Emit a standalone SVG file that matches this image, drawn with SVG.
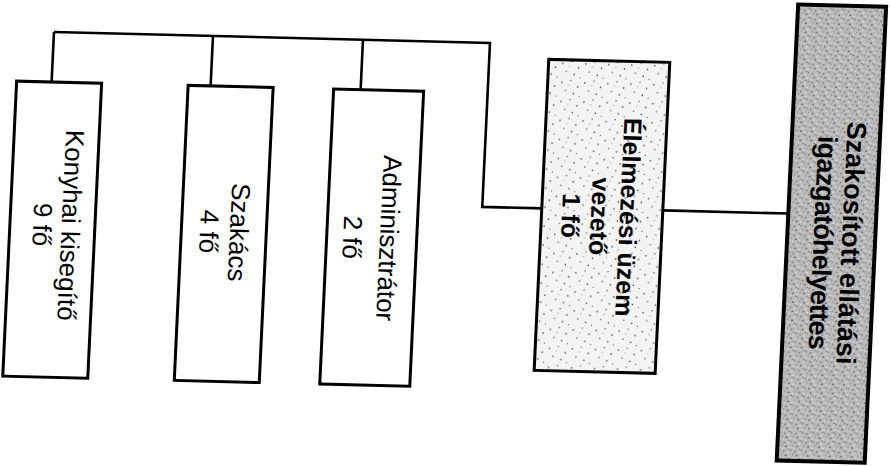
<svg xmlns="http://www.w3.org/2000/svg" width="890" height="466" viewBox="0 0 890 466">
  <style>
    .box { stroke: #000; stroke-width: 3; }
    .plain { fill: #fff; }
    .conn { fill: none; stroke: #000; stroke-width: 2.6; }
    .t { font-family: "Liberation Sans", Arial, Helvetica, sans-serif; font-size: 26px; fill: #000; text-anchor: middle; }
    .b { font-weight: bold; }
  </style>
  <defs>
    <pattern id="lightDots" width="23" height="19" patternUnits="userSpaceOnUse">
      <rect width="23" height="19" fill="#f3f3f3"/>
      <rect x="2" y="3" width="1.3" height="1.3" fill="#333"/>
      <rect x="11" y="1" width="1.2" height="1.2" fill="#555"/>
      <rect x="18" y="7" width="1.3" height="1.3" fill="#222"/>
      <rect x="6" y="11" width="1.2" height="1.2" fill="#444"/>
      <rect x="14" y="14" width="1.3" height="1.3" fill="#333"/>
      <rect x="20" y="17" width="1.1" height="1.1" fill="#666"/>
      <rect x="9" y="6" width="1" height="1" fill="#888"/>
    </pattern>
    <pattern id="grayNoise" width="11" height="9" patternUnits="userSpaceOnUse">
      <rect width="11" height="9" fill="#b9b9b9"/>
      <rect x="1" y="1" width="1.2" height="1.2" fill="#555"/>
      <rect x="5" y="2" width="1.3" height="1.3" fill="#eee"/>
      <rect x="8" y="0" width="1.1" height="1.1" fill="#666"/>
      <rect x="3" y="5" width="1.3" height="1.3" fill="#444"/>
      <rect x="7" y="6" width="1.2" height="1.2" fill="#f0f0f0"/>
      <rect x="10" y="4" width="1" height="1" fill="#777"/>
      <rect x="0" y="7" width="1.2" height="1.2" fill="#ddd"/>
      <rect x="6" y="8" width="1" height="1" fill="#555"/>
    </pattern>
  </defs>
  <g transform="matrix(1 0.025 -0.047 1 10.95 -11.13)">
    <g id="connectors">
      <path class="conn" d="M45,42 H481 V206 H540.5"/>
      <path class="conn" d="M45,42 V92"/>
      <path class="conn" d="M204,42 V92"/>
      <path class="conn" d="M354,42 V92"/>
      <path class="conn" d="M661.5,205 H787"/>
    </g>
    <g id="konyhai-kisegito">
      <rect class="box plain" x="10" y="92" width="85" height="295"/>
      <text class="t" transform="translate(61.8,234.6) rotate(90)"><tspan x="0" y="0">Konyhai kisegítő</tspan><tspan x="0" y="28.4">9 fő</tspan></text>
    </g>
    <g id="szakacs">
      <rect class="box plain" x="181.5" y="92" width="85" height="295"/>
      <text class="t" transform="translate(230.2,237.4) rotate(90)"><tspan x="0" y="0">Szakács</tspan><tspan x="0" y="30">4 fő</tspan></text>
    </g>
    <g id="adminisztrator">
      <rect class="box plain" x="327" y="92" width="90" height="295"/>
      <text class="t" transform="translate(380.3,239.6) rotate(90)"><tspan x="0" y="0">Adminisztrátor</tspan><tspan x="0" y="36.7">2 fő</tspan></text>
    </g>
    <g id="elelmezesi-uzem-vezeto">
      <rect class="box" fill="url(#lightDots)" x="540.5" y="57" width="121" height="311"/>
      <text class="t b" style="font-size:25px" transform="translate(619,212.6) rotate(90)"><tspan x="0" y="0">Élelmezési üzem</tspan><tspan x="0" y="29">vezető</tspan><tspan x="0" y="58">1 fő</tspan></text>
    </g>
    <g id="szakositott-ellatasi-igazgatohelyettes">
      <rect class="box" style="stroke-width:4" fill="url(#grayNoise)" x="787" y="-4" width="88" height="456"/>
      <text class="t b" style="font-size:27px" transform="translate(842,233) rotate(90)"><tspan x="0" y="0">Szakosított ellátási</tspan><tspan x="0" y="28.5" letter-spacing="-0.8">igazgatóhelyettes</tspan></text>
    </g>
  </g>
</svg>
